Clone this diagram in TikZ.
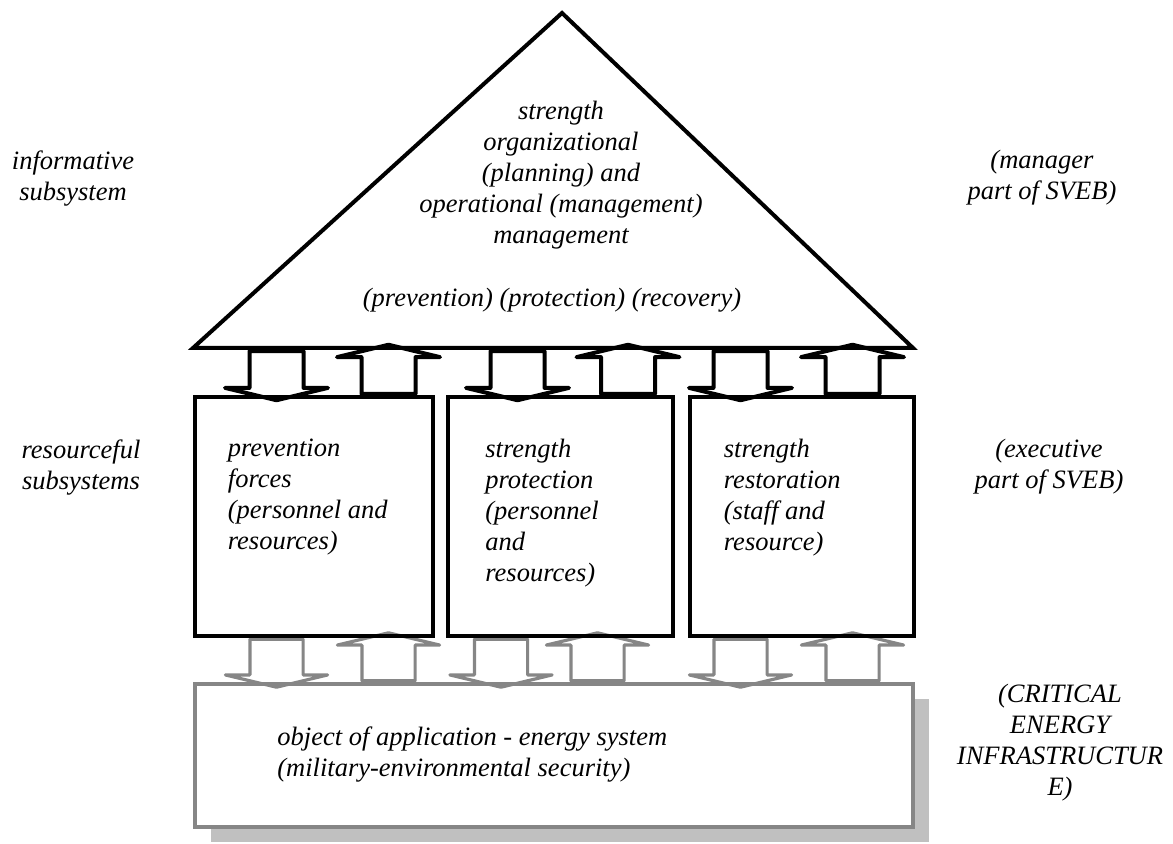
\documentclass[tikz,border=0pt]{standalone}
\usepackage{fontspec}
\setmainfont{Liberation Serif}
\usepackage{xcolor}
\usetikzlibrary{shapes.arrows,shadows}

\definecolor{framegray}{HTML}{868686}
\definecolor{shadegray}{HTML}{C0C0C0}

\tikzset{
  lbl/.style={font=\itshape\fontsize{13.25pt}{15.5pt}\selectfont, inner sep=0pt,
              align=center, anchor=north, execute at begin node=\strut},
  boxtext/.style={lbl, align=left, anchor=north west},
  part/.style={draw, line width=2pt, outer sep=0pt, inner sep=0pt,
               minimum height=119.5pt},
  blkarrow/.style={single arrow, draw, line width=2pt, line join=round, inner xsep=0pt,
                   inner ysep=12.5pt, minimum width=0pt, minimum height=24.5pt,
                   single arrow head extend=12.25pt, single arrow tip angle=153},
  grayarrow/.style={blkarrow, draw=framegray, line width=1.6pt, minimum height=24pt}
}

\begin{document}
\begin{tikzpicture}[x=0.5pt,y=-0.5pt]
\useasboundingbox (0,0) rectangle (1173,844);

% object of application
\node[draw=framegray, line width=1.6pt, fill=white, outer sep=0pt,
      minimum width=359pt, minimum height=71.5pt,
      drop shadow={shadow xshift=8pt, shadow yshift=-7.5pt, fill=shadegray, opacity=1}]
      (base) at (554,755.5) {};
\node[boxtext] (basetxt) at ([shift={(82,42)}]base.north west)
      {object of application - energy system\\(military-environmental security)};

% links between resources and object
\node[grayarrow, rotate=-90] (d1) at (276.5,660) {};
\node[grayarrow, rotate=90]  (u1) at (388.5,660) {};
\node[grayarrow, rotate=-90] (d2) at (501,660) {};
\node[grayarrow, rotate=90]  (u2) at (597.5,660) {};
\node[grayarrow, rotate=-90] (d3) at (740.5,660) {};
\node[grayarrow, rotate=90]  (u3) at (852.5,660) {};

% resource subsystems
\node[part, minimum width=119pt] (prev) at (313.5,516.5) {};
\node[part, minimum width=112.5pt] (prot) at (560.5,516.5) {};
\node[part, minimum width=112pt] (rest) at (801.5,516.5) {};
\node[boxtext] (prevtxt) at ([shift={(33,42)}]prev.north west)
      {prevention\\forces\\(personnel and\\resources)};
\node[boxtext] (prottxt) at ([shift={(37,42)}]prot.north west)
      {strength\\protection\\(personnel\\and\\resources)};
\node[boxtext] (resttxt) at ([shift={(34,42)}]rest.north west)
      {strength\\restoration\\(staff and\\resource)};

% management triangle
\coordinate (tl) at (193,348);
\coordinate (top) at (562,13);
\coordinate (tr) at (913,348);
\draw[line width=2pt, line join=miter] (tl) -- (top) -- (tr) -- cycle;
\node[lbl] (mgmt) at (561,101)
      {strength\\organizational\\(planning) and\\operational (management)\\management};
\node[lbl] (phases) at (552,284) {(prevention) (protection) (recovery)};

% links between management and resources
\node[blkarrow, rotate=-90] (md1) at (276.5,372.5) {};
\node[blkarrow, rotate=90]  (mu1) at (388.5,372.5) {};
\node[blkarrow, rotate=-90] (md2) at (517.5,372.5) {};
\node[blkarrow, rotate=90]  (mu2) at (628,372.5) {};
\node[blkarrow, rotate=-90] (md3) at (740.5,372.5) {};
\node[blkarrow, rotate=90]  (mu3) at (852.5,372.5) {};

% side labels
\node[lbl] (info) at (73,150) {informative\\subsystem};
\node[lbl] (res) at (81,439) {resourceful\\subsystems};
\node[lbl] (mgr) at (1042,150) {(manager\\part of SVEB)};
\node[lbl] (exe) at (1049,439) {(executive\\part of SVEB)};
\node[lbl] (cei) at (1060,684) {(CRITICAL\\ENERGY\\INFRASTRUCTUR\\E)};
\end{tikzpicture}
\end{document}
